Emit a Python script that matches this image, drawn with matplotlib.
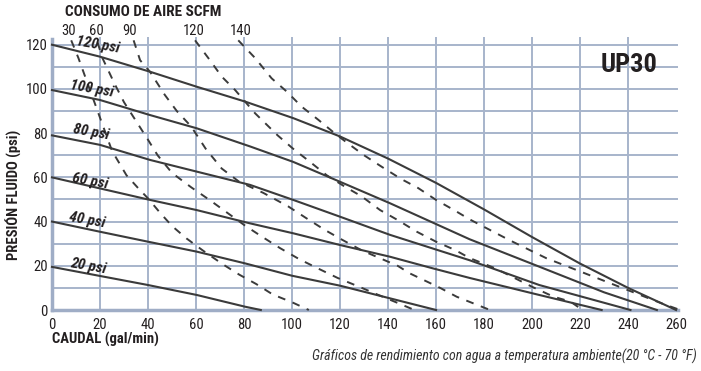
import matplotlib
matplotlib.use("Agg")
import matplotlib.pyplot as plt
from matplotlib import font_manager

# Curvas de presión de aire (psi): caudal (gal/min) -> presión de fluido (psi)
p120_x = [0, 20, 40.8, 60.3, 80.4, 100.5, 120, 140, 160, 180, 200, 220, 240, 260]
p120_y = [120, 114.6, 107.8, 101, 94.3, 86.8, 78.5, 68.5, 57.5, 45.5, 33, 21, 10, 0]
p100_x = [0, 20, 40.8, 60.3, 82.5, 100.5, 120, 140.8, 174, 203, 230, 252]
p100_y = [99.5, 95, 88.2, 82.2, 74, 67, 58, 48.3, 32, 19.6, 8, 0]
p80_x = [0, 20, 40.8, 60.3, 82.5, 100.5, 120, 140.8, 174, 203, 241]
p80_y = [79, 74.7, 67.9, 62.6, 56.6, 49.8, 42.2, 34, 22.5, 11.3, 0]
p60_x = [0, 20, 40, 60.3, 82.5, 100.5, 120, 140.8, 158.8, 174, 203, 229]
p60_y = [60, 55, 50, 45.2, 39.2, 34.7, 29.4, 24.1, 18.8, 14.5, 6.8, 0]
p40_x = [0, 20, 40, 60.3, 80.4, 100, 120, 140, 160]
p40_y = [40, 35.4, 30.9, 26.4, 21.1, 15.5, 11, 5.5, 0]
p20_x = [0, 20, 40, 60.3, 80.4, 87]
p20_y = [19.5, 15.4, 11.3, 6.8, 1.5, 0]

# Curvas de consumo de aire (SCFM)
c30_x = [8, 11, 14, 17, 20, 25, 31, 36, 40, 45, 50, 56, 63, 71, 78, 85, 92, 100, 107]
c30_y = [122, 114, 105, 96, 87, 72, 61, 55, 50.5, 44, 38, 32.4, 26.8, 20.8, 16, 11.8, 7, 3.5, 0]
c60_x = [19, 21, 26, 30, 35, 40, 44, 50, 58, 66, 73, 80, 87, 95, 103, 111, 119, 128, 136, 144, 151]
c60_y = [121, 114, 102.5, 94, 85.5, 77, 70, 62, 55.5, 49.5, 44, 38.5, 33.5, 28, 23, 18.7, 14.5, 10.5, 6.8, 3.2, 0]
c90_x = [34, 36.7, 40.8, 47, 52, 58, 64, 70.7, 78, 88, 98.5, 106, 113.7, 121, 129, 136.7, 144, 149, 161.7, 168.6, 182.5]
c90_y = [122, 113, 107.8, 97.3, 90, 83, 73, 64, 58, 53, 46.8, 41.5, 36.2, 31.7, 27, 23.4, 20, 16.6, 10, 6, 0]
c120_x = [59.6, 65.8, 70.7, 76.3, 84.6, 94, 100.4, 107.5, 114.4, 122, 129, 136.7, 144, 152, 160, 168, 174, 184.6, 200, 209, 216, 221]
c120_y = [122, 113, 105.6, 99.5, 89, 79, 73, 67, 61, 55.8, 51.4, 45.2, 40.7, 35.4, 30.9, 27.1, 23.5, 18.9, 10.5, 6, 3.8, 0]
c140_x = [77.6, 84.6, 91.5, 97.8, 104, 111, 118.6, 125, 130, 137.5, 145.4, 152.5, 160, 167.5, 174, 190.4, 206, 222, 238, 254, 261.7]
c140_y = [122, 114, 104.8, 98.8, 92, 86, 79.2, 74, 70, 64.7, 59.3, 55.2, 49.8, 45.2, 41, 31.7, 23.4, 16.6, 9.8, 3, 0]

psi_labels = ["120 psi", "100 psi", "80 psi", "60 psi", "40 psi", "20 psi"]
psi_label_x = [19, 16.7, 16.3, 15.8, 14.8, 15.2]
psi_label_y = [120, 99.8, 80.5, 58.4, 40.5, 19.7]
scfm_labels = ["30", "60", "90", "120", "140"]
scfm_label_x = [6.9, 18.3, 32.5, 58.9, 78.8]
x_ticks = list(range(0, 261, 20))
y_ticks = list(range(0, 121, 20))


def fonts(*names):
    have = {f.name for f in font_manager.fontManager.ttflist}
    return [n for n in names if n in have] + ["DejaVu Sans"]


narrow = fonts("Liberation Sans Narrow", "Roboto Condensed", "Liberation Sans")
plt.rcParams["font.family"] = narrow

grid_c = "#a7b4cb"
line_c = "#3b3b3b"
text_c = "#231f20"

fig = plt.figure(figsize=(7.01, 3.71), dpi=100)
ax = fig.add_axes([52 / 701, 1 - 310 / 371, 626 / 701, 273 / 371])
ax.set_xlim(0, 260.8)
ax.set_ylim(0, 123.5)

for gx in range(20, 241, 20):
    ax.axvline(gx, color=grid_c, lw=1.4, zorder=0)
for gy in range(10, 121, 10):
    ax.axhline(gy, color=grid_c, lw=1.4, zorder=0)

for s in ["top", "right"]:
    ax.spines[s].set_visible(False)
for s in ["left", "bottom"]:
    ax.spines[s].set_color("#9fadc6")
    ax.spines[s].set_linewidth(2.5)
ax.spines["left"].set_bounds(0, 122.5)

for xs, ys in [(p120_x, p120_y), (p100_x, p100_y), (p80_x, p80_y),
               (p60_x, p60_y), (p40_x, p40_y), (p20_x, p20_y)]:
    ax.plot(xs, ys, color=line_c, lw=1.5, zorder=3, clip_on=False)

for xs, ys in [(c30_x, c30_y), (c60_x, c60_y), (c90_x, c90_y),
               (c120_x, c120_y), (c140_x, c140_y)]:
    ax.plot(xs, ys, color=line_c, lw=1.4, ls=(0, (4, 4)), zorder=3, clip_on=False)

for lab, lx, ly in zip(psi_labels, psi_label_x, psi_label_y):
    ax.text(lx, ly, lab, ha="center", va="center", rotation=-10,
            fontsize=11, fontweight="bold", fontstyle="italic", color=text_c, zorder=4)

for lab, lx in zip(scfm_labels, scfm_label_x):
    ax.text(lx, 126, lab, ha="center", va="center", fontsize=10.5, color=text_c, clip_on=False)

ax.set_xticks(x_ticks)
ax.set_yticks(y_ticks)
ax.tick_params(length=0, labelsize=10.5, labelcolor=text_c)
ax.tick_params(axis="x", pad=6)
ax.tick_params(axis="y", pad=3)

ax.text(240.4, 111, "UP30", ha="center", va="center", fontsize=19,
        fontweight="bold", color=text_c)

fig.text(65 / 701, 1 - 12 / 371, "CONSUMO DE AIRE SCFM", ha="left", va="center",
         fontsize=11, fontweight="bold", color=text_c)
fig.text(52 / 701, 1 - 339 / 371, "CAUDAL (gal/min)", ha="left", va="center",
         fontsize=10.5, fontweight="bold", color=text_c)
fig.text(14 / 701, 1 - 195 / 371, "PRESIÓN FLUIDO (psi)", ha="center", va="center",
         rotation=90, fontsize=10.5, fontweight="bold", color=text_c)
fig.text(697 / 701, 1 - 356 / 371,
         "Gráficos de rendimiento con agua a temperatura ambiente(20 °C - 70 °F)",
         ha="right", va="center", fontsize=10, fontstyle="italic", color="#333333")

fig.savefig("out.png", dpi=100)
